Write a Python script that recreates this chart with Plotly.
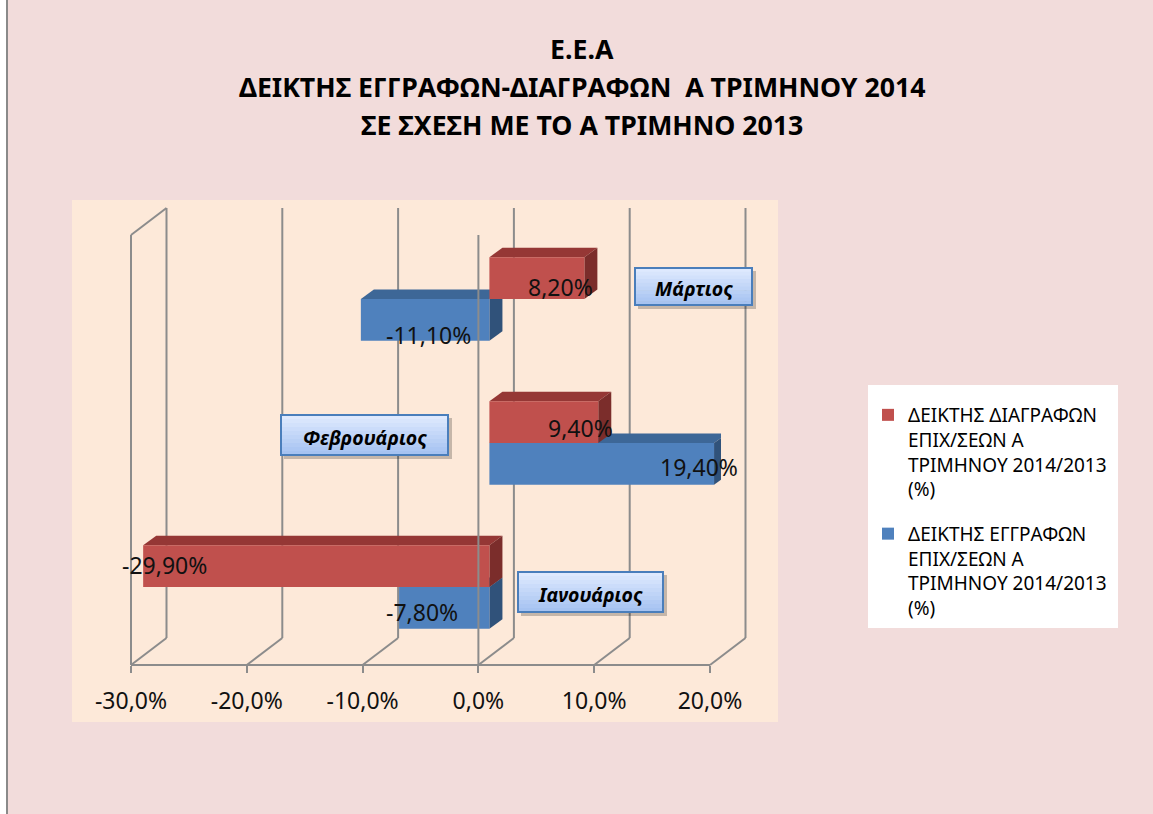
import plotly.graph_objects as go

W, H = 1153, 814

# ---------------- data ----------------
months = ["Ιανουάριος", "Φεβρουάριος", "Μάρτιος"]
month_pos = [0, 1, 2]
deletions = [-29.9, 9.4, 8.2]        # ΔΕΙΚΤΗΣ ΔΙΑΓΡΑΦΩΝ (red)
registrations = [-7.8, 19.4, -11.1]  # ΔΕΙΚΤΗΣ ΕΓΓΡΑΦΩΝ (blue)
series_names = [
    "ΔΕΙΚΤΗΣ ΔΙΑΓΡΑΦΩΝ<br>ΕΠΙΧ/ΣΕΩΝ Α<br>ΤΡΙΜΗΝΟΥ 2014/2013<br>(%)",
    "ΔΕΙΚΤΗΣ ΕΓΓΡΑΦΩΝ<br>ΕΠΙΧ/ΣΕΩΝ Α<br>ΤΡΙΜΗΝΟΥ 2014/2013<br>(%)",
]
tick_values = [-30, -20, -10, 0, 10, 20]
tick_labels = ["-30,0%", "-20,0%", "-10,0%", "0,0%", "10,0%", "20,0%"]
title_lines = [
    "Ε.Ε.Α",
    "ΔΕΙΚΤΗΣ ΕΓΓΡΑΦΩΝ-ΔΙΑΓΡΑΦΩΝ &nbsp;Α ΤΡΙΜΗΝΟΥ 2014",
    "ΣΕ ΣΧΕΣΗ ΜΕ ΤΟ Α ΤΡΙΜΗΝΟ 2013",
]

# ---------------- styles ----------------
FONT = "Noto Sans"
PINK = "#F2DCDB"
PEACH = "#FDE9D9"
RED, RED_TOP, RED_SIDE = "#C0504D", "#953735", "#7B2D2B"
BLUE, BLUE_TOP, BLUE_SIDE = "#4F81BD", "#3D6797", "#30527A"
GRID = "#8C8C8C"

XMIN, XMAX = -30, 20
FRONT_L, FRONT_R, FRONT_BOTTOM = 131, 710, 665
DEPTH_DX, DEPTH_DY = 35.5, 27
WALL_TOP = 235
BACK_BOTTOM = FRONT_BOTTOM - DEPTH_DY
BACK_TOP = WALL_TOP - DEPTH_DY

BAR_W = 0.29
FACE_DX = 1.125   # depth of bar faces in value units
FACE_DY = 0.066   # depth of bar faces in category units

# label shifts (px) per month for data labels (right, down)
red_label_shift = [(21, -1), (-18, 5.5), (-24, 8.5)]
blue_label_shift = [(23, 4), (-15, 3), (68, 15.5)]
# category label boxes (px): x0, y0, x1, y1
cat_boxes = [(518, 572, 663, 612), (281, 415, 448, 455), (635, 268, 752, 305)]
# legend box (px)
LEG_BOX = (868, 385, 1118, 628)


def xp(px):
    return px / W


def yp(py):
    return 1 - py / H


def front_x(v):
    return FRONT_L + (v - XMIN) / (XMAX - XMIN) * (FRONT_R - FRONT_L)


fig = go.Figure()

fig.add_trace(go.Bar(
    y=month_pos, x=deletions, orientation="h", width=BAR_W, offset=0,
    marker=dict(color=RED, line=dict(width=0)), name=series_names[0],
    legendgroup="d", hoverinfo="skip",
))
fig.add_trace(go.Bar(
    y=month_pos, x=registrations, orientation="h", width=BAR_W, offset=-BAR_W,
    marker=dict(color=BLUE, line=dict(width=0)), name=series_names[1],
    legendgroup="r", hoverinfo="skip",
))
# empty trace to host the front value axis
fig.add_trace(go.Scatter(x=[None], y=[None], xaxis="x2", yaxis="y",
                         showlegend=False, hoverinfo="skip"))

shapes = []
# outer frame line
shapes.append(dict(type="rect", xref="paper", yref="paper", x0=0, x1=xp(6),
                   y0=0, y1=1, fillcolor="white", line=dict(width=0), layer="below"))
shapes.append(dict(type="line", xref="paper", yref="paper", x0=xp(7), x1=xp(7),
                   y0=0, y1=1, line=dict(color="#8A8A8A", width=2), layer="below"))
# plot area
shapes.append(dict(type="rect", xref="paper", yref="paper", x0=xp(72), x1=xp(778),
                   y0=yp(722), y1=yp(200), fillcolor=PEACH, line=dict(width=0),
                   layer="below"))
# legend box
shapes.append(dict(type="rect", xref="paper", yref="paper", x0=xp(LEG_BOX[0]),
                   x1=xp(LEG_BOX[2]), y0=yp(LEG_BOX[3]), y1=yp(LEG_BOX[1]),
                   fillcolor="white", line=dict(width=0), layer="below"))
# back wall gridlines and floor diagonals
for v in tick_values:
    fx = front_x(v)
    bx = fx + DEPTH_DX
    shapes.append(dict(type="line", xref="paper", yref="paper", x0=xp(bx), x1=xp(bx),
                       y0=yp(BACK_TOP), y1=yp(BACK_BOTTOM),
                       line=dict(color=GRID, width=2), layer="below"))
    shapes.append(dict(type="line", xref="paper", yref="paper", x0=xp(bx), x1=xp(fx),
                       y0=yp(BACK_BOTTOM), y1=yp(FRONT_BOTTOM),
                       line=dict(color=GRID, width=2), layer="below"))
# left wall front edge
lx = front_x(XMIN)
shapes.append(dict(type="line", xref="paper", yref="paper", x0=xp(lx), x1=xp(lx),
                   y0=yp(WALL_TOP), y1=yp(FRONT_BOTTOM),
                   line=dict(color=GRID, width=2), layer="below"))
shapes.append(dict(type="line", xref="paper", yref="paper", x0=xp(lx), x1=xp(lx + DEPTH_DX),
                   y0=yp(WALL_TOP), y1=yp(BACK_TOP),
                   line=dict(color=GRID, width=2), layer="below"))


def faces(vals, y_lo, y_hi, top_col, side_col):
    out = []
    for v, lo, hi in zip(vals, y_lo, y_hi):
        a, b = min(0, v), max(0, v)
        top = (f"M {a},{hi} L {b},{hi} L {b + FACE_DX},{hi + FACE_DY} "
               f"L {a + FACE_DX},{hi + FACE_DY} Z")
        side = (f"M {b},{lo} L {b},{hi} L {b + FACE_DX},{hi + FACE_DY} "
                f"L {b + FACE_DX},{lo + FACE_DY} Z")
        out.append(dict(type="path", xref="x", yref="y", path=top, fillcolor=top_col,
                        line=dict(width=0), layer="below"))
        out.append(dict(type="path", xref="x", yref="y", path=side, fillcolor=side_col,
                        line=dict(width=0), layer="below"))
    return out


shapes += faces(registrations, [p - BAR_W for p in month_pos], month_pos, BLUE_TOP, BLUE_SIDE)
shapes += faces(deletions, month_pos, [p + BAR_W for p in month_pos], RED_TOP, RED_SIDE)

# front zero line (in front of bars)
zx = front_x(0)
shapes.append(dict(type="line", xref="paper", yref="paper", x0=xp(zx), x1=xp(zx),
                   y0=yp(WALL_TOP), y1=yp(FRONT_BOTTOM),
                   line=dict(color=GRID, width=2), layer="above"))

# category label boxes
top_c = (0xE2, 0xEC, 0xFF)
bot_c = (0xA3, 0xC1, 0xF1)
N = 10
for (x0, y0, x1, y1) in cat_boxes:
    shapes.append(dict(type="rect", xref="paper", yref="paper", x0=xp(x0 + 3), x1=xp(x1 + 4),
                       y0=yp(y1 + 4), y1=yp(y0 + 3), fillcolor="rgba(0,0,0,0.22)",
                       line=dict(width=0), layer="above"))
    for i in range(N):
        t = (i + 0.5) / N
        c = tuple(int(top_c[k] + (bot_c[k] - top_c[k]) * t) for k in range(3))
        ya = y0 + (y1 - y0) * i / N
        yb = y0 + (y1 - y0) * (i + 1) / N
        shapes.append(dict(type="rect", xref="paper", yref="paper", x0=xp(x0), x1=xp(x1),
                           y0=yp(yb + 0.5), y1=yp(ya), fillcolor="rgb(%d,%d,%d)" % c,
                           line=dict(width=0), layer="above"))
    shapes.append(dict(type="rect", xref="paper", yref="paper", x0=xp(x0), x1=xp(x1),
                       y0=yp(y1), y1=yp(y0), fillcolor="rgba(0,0,0,0)",
                       line=dict(color="#4A7EBB", width=2), layer="above"))

annotations = []
# title
for line, cy in zip(title_lines, [49, 87, 124]):
    annotations.append(dict(text=line, xref="paper", yref="paper", x=xp(582), y=yp(cy),
                            xanchor="center", yanchor="middle", showarrow=False,
                            font=dict(family=FONT, size=26.7, color="black", weight="bold")))
# category labels
for name, (x0, y0, x1, y1) in zip(months, cat_boxes):
    annotations.append(dict(text=name, xref="paper", yref="paper", x=xp((x0 + x1) / 2),
                            y=yp((y0 + y1) / 2 + 2), xanchor="center", yanchor="middle",
                            showarrow=False,
                            font=dict(family=FONT, size=19.5, color="black",
                                      weight="bold", style="italic")))


def fmt(v):
    return ("%.2f" % v).replace(".", ",") + "%"


for vals, centers, shifts in (
    (deletions, [p + BAR_W / 2 for p in month_pos], red_label_shift),
    (registrations, [p - BAR_W / 2 for p in month_pos], blue_label_shift),
):
    for v, c, (dx, dy) in zip(vals, centers, shifts):
        annotations.append(dict(text=fmt(v), xref="x", yref="y", x=v, y=c,
                                xanchor="center", yanchor="middle", showarrow=False,
                                xshift=dx, yshift=-dy,
                                font=dict(family=FONT, size=23, color="#111111")))

bar_x_dom = [xp(front_x(XMIN) + 11), xp(front_x(XMAX) + 11)]

fig.update_layout(
    template="none",
    width=W, height=H, autosize=False,
    margin=dict(l=0, r=0, t=0, b=0, pad=0, autoexpand=False),
    paper_bgcolor=PINK, plot_bgcolor="rgba(0,0,0,0)",
    barmode="overlay",
    showlegend=True,
    legend=dict(x=xp(868), y=yp(396), xanchor="left", yanchor="top",
                bgcolor="rgba(0,0,0,0)", borderwidth=0, valign="top",
                font=dict(family=FONT, size=19, color="black"),
                tracegroupgap=17, traceorder="grouped", itemwidth=30),
    xaxis=dict(domain=bar_x_dom, range=[XMIN, XMAX], visible=False, fixedrange=True,
               automargin=False),
    yaxis=dict(domain=[yp(659), yp(227)], range=[-0.5, 2.5], visible=False,
               fixedrange=True, automargin=False),
    xaxis2=dict(domain=[xp(FRONT_L), xp(FRONT_R)], range=[XMIN, XMAX], anchor="free",
                position=yp(FRONT_BOTTOM), tickmode="array", tickvals=tick_values,
                ticktext=tick_labels, ticks="outside", ticklen=7, tickwidth=2,
                tickcolor=GRID, showline=True, linecolor=GRID, linewidth=2,
                showgrid=False, zeroline=False, ticklabelstandoff=8, automargin=False,
                tickfont=dict(family=FONT, size=23, color="#111111"), fixedrange=True),
    shapes=shapes,
    annotations=annotations,
)

fig.write_html(
    "out.html",
    config={"displayModeBar": False},
    post_script="document.body.style.margin='0';document.body.style.overflow='hidden';",
)
